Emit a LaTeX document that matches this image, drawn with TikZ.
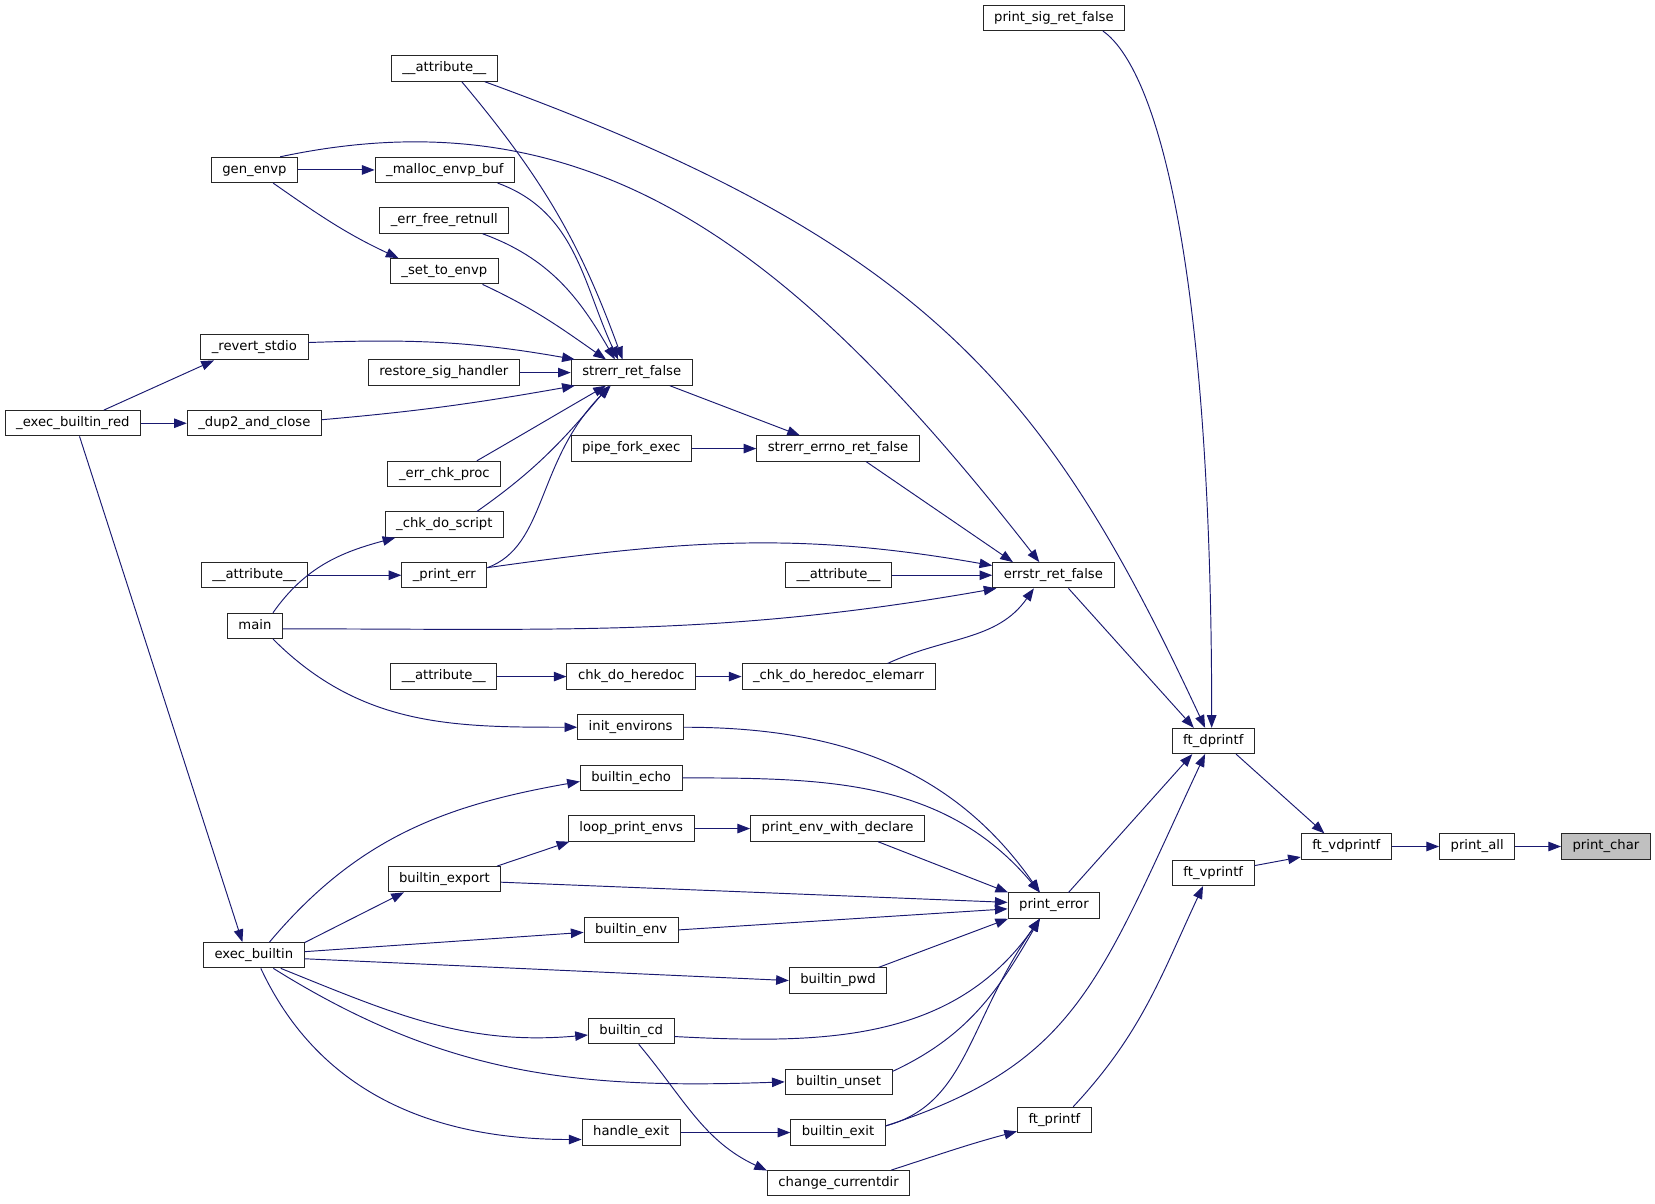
\documentclass[tikz,border=0pt]{standalone}
\usepackage{fontspec}
\setmainfont{DejaVu Sans}
\usepackage[svgnames]{xcolor}
\usetikzlibrary{arrows.meta}

\tikzset{
    func/.style={draw=black!85, line width=0.9pt, minimum height=24pt,
        inner xsep=10.5pt, inner ysep=0pt, text height=9pt, text depth=3pt,
        font=\fontsize{12.5}{15}\selectfont},
    call/.style={MidnightBlue, line width=0.9pt,
        -{Triangle[length=12pt,width=9pt]}},
}

\begin{document}
\begin{tikzpicture}[x=1pt, y=1pt]
    \useasboundingbox (0,0) rectangle (1568,-1140);

    % functions
    \foreach \name/\x/\y/\co/\txt in {
        pchar/1521.5/802/Silver/print\_char,
        pall/1399.5/802/white/print\_all,
        vdp/1275.5/802/white/ft\_vdprintf,
        ftd/1149.5/702/white/ft\_dprintf,
        vpr/1149.5/827/white/ft\_vprintf,
        ftp/999/1061/white/ft\_printf,
        psig/998.5/17/white/print\_sig\_ret\_false,
        attrA/421/65/white/\_\_attribute\_\_,
        gen/241/161/white/gen\_envp,
        malloc/421.5/161/white/\_malloc\_envp\_buf,
        errfree/421/209/white/\_err\_free\_retnull,
        setenv/421/257/white/\_set\_to\_envp,
        revert/241/329/white/\_revert\_stdio,
        restore/420.5/353/white/restore\_sig\_handler,
        strerr/598.5/353/white/strerr\_ret\_false,
        execred/69/401/white/\_exec\_builtin\_red,
        dup2/241/401/white/\_dup2\_and\_close,
        pipe/598/425/white/pipe\_fork\_exec,
        strerrno/794/425/white/strerr\_errno\_ret\_false,
        errchk/421/449/white/\_err\_chk\_proc,
        chkscript/421/497/white/\_chk\_do\_script,
        attrB/241/545/white/\_\_attribute\_\_,
        printerr/421/545/white/\_print\_err,
        attrC/794.5/545/white/\_\_attribute\_\_,
        errstr/998/545/white/errstr\_ret\_false,
        main/241.5/593/white/main,
        attrD/420.5/641/white/\_\_attribute\_\_,
        chkhd/598/641/white/chk\_do\_heredoc,
        elemarr/794.5/641/white/\_chk\_do\_heredoc\_elemarr,
        initenv/597.5/689/white/init\_environs,
        echo/598/737/white/builtin\_echo,
        loopenv/598/785/white/loop\_print\_envs,
        envdecl/793.5/785/white/print\_env\_with\_declare,
        export/421/833/white/builtin\_export,
        perr/998.5/858/white/print\_error,
        env/598/881/white/builtin\_env,
        execb/240.5/905/white/exec\_builtin,
        pwd/794/929/white/builtin\_pwd,
        cd/598/977/white/builtin\_cd,
        unset/794.5/1025/white/builtin\_unset,
        handle/598/1073/white/handle\_exit,
        bexit/794/1073/white/builtin\_exit,
        chdir/794.5/1121/white/change\_currentdir}
    {
        \node[func, fill=\co] (\name) at (\x,-\y) {\txt};
    }

    % straight calls
    \foreach \src/\dst in {
        pall.east/pchar.west, vdp.east/pall.west, ftd.-30/vdp.149, vpr.10/vdp.193,
        gen.east/malloc.west, restore.east/strerr.west, execred.23/revert.198,
        execred.east/dup2.west, execred.-63/execb.131, strerr.-19/strerrno.161,
        pipe.east/strerrno.west, strerrno.-25/errstr.162, attrC.east/errstr.west,
        attrB.east/printerr.west, attrD.east/chkhd.west, chkhd.east/elemarr.west,
        loopenv.east/envdecl.west, envdecl.-18/perr.164, export.-3/perr.176,
        env.east/perr.184, pwd.18/perr.196, export.14/loopenv.192,
        execb.14/export.198, execb.4/env.183, execb.-4/pwd.180,
        handle.east/bexit.west, errstr.-41/ftd.146, perr.42/ftd.212}
    {
        \draw[call] (\src) -- (\dst);
    }

    % bent calls
    \foreach \src/\dst/\o/\i in {
        ftp.35/vpr.232/47/245,
        malloc.-14/strerr.136/-20/115,
        errfree.-19/strerr.142/-20/120,
        setenv.-19/strerr.153/-25/145,
        attrA.-37/strerr.125/-50/110,
        revert.5/strerr.167/2/170,
        dup2.3/strerr.193/5/190,
        errchk.22/strerr.207/30/210,
        chkscript.22/strerr.210/35/230,
        gen.-35/setenv.164/-35/155,
        main.36/chkscript.195/55/195,
        main.-36/initenv.west/-45/180,
        printerr.10/errstr.171/8/170,
        main.-6/errstr.193/0/190,
        elemarr.15/errstr.214/25/235,
        initenv.east/perr.137/0/125,
        echo.east/perr.137/0/130,
        cd.-7/perr.223/-3/235,
        unset.11/perr.223/25/240,
        execb.40/echo.184/50/190,
        execb.-26/cd.185/-22/185,
        execb.-34/unset.180/-32/182,
        execb.-62/handle.188/-65/180,
        cd.-60/chdir.170/-50/155,
        chdir.14/ftp.197/18/195}
    {
        \draw[call] (\src) to[out=\o, in=\i] (\dst);
    }

    % long calls
    \draw[call] (psig.-15) .. controls +(-35:60pt) and +(90:450pt) .. (ftd.97);
    \draw[call] (attrA.-18) .. controls +(-20:450pt) and +(115:350pt) .. (ftd.122);
    \draw[call] (gen.27) .. controls +(12:300pt) and +(128:380pt) .. (errstr.137);
    \draw[call] (printerr.10) .. controls +(20:60pt) and +(225:100pt) .. (strerr.212);
    \draw[call] (bexit.8) .. controls +(15:80pt) and +(235:120pt) .. (perr.223);
    \draw[call] (bexit.8) .. controls +(18:190pt) and +(245:240pt) .. (ftd.238);
\end{tikzpicture}
\end{document}
